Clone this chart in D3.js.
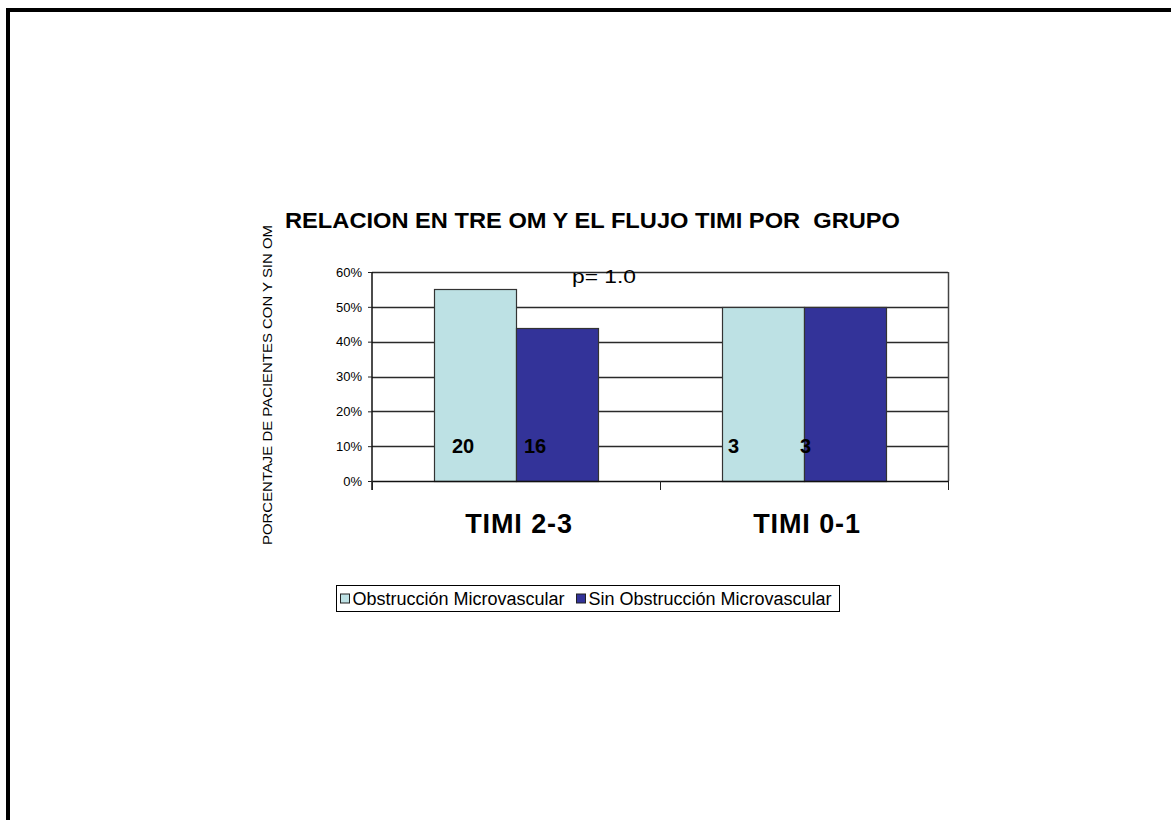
<!DOCTYPE html>
<html>
<head>
<meta charset="utf-8">
<script src="https://cdn.jsdelivr.net/npm/d3@7/dist/d3.min.js"></script>
<style>
  html, body { margin: 0; padding: 0; background: #fff; }
  svg { display: block; font-family: Arial, "Liberation Sans", sans-serif; }
  text { white-space: pre; }
</style>
</head>
<body>
<svg id="chart" width="1171" height="820"></svg>
<script>
// Categories and series
const categories = ["TIMI 2-3", "TIMI 0-1"];
const seriesNames = ["Obstrucción Microvascular", "Sin Obstrucción Microvascular"];
const obstruccion = [55, 50];       // % of patients with OM
const sinObstruccion = [44, 50];    // % of patients without OM
const countsObstruccion = [20, 3];
const countsSin = [16, 3];
const yTicks = [0, 10, 20, 30, 40, 50, 60];
const titleText = "RELACION EN TRE OM Y EL FLUJO TIMI POR  GRUPO";
const yAxisTitle = "PORCENTAJE DE PACIENTES CON Y SIN OM";
const pValueText = "p= 1.0";

const colors = ["#BDE1E4", "#333399"];

const svg = d3.select("#chart");

// Page frame (top and left edges)
svg.append("line").attr("x1", 6).attr("x2", 1171).attr("y1", 10).attr("y2", 10)
  .attr("stroke", "#000").attr("stroke-width", 4);
svg.append("line").attr("x1", 8).attr("x2", 8).attr("y1", 8).attr("y2", 820)
  .attr("stroke", "#000").attr("stroke-width", 4);

const plot = { left: 372, right: 948, top: 272, bottom: 481 };

const x0 = d3.scaleBand().domain(categories).range([plot.left, plot.right]).paddingInner(0).paddingOuter(0);
const x1 = d3.scaleBand().domain([0, 1]).range([0, x0.bandwidth()]).paddingInner(0).paddingOuter(0.756);
const y = d3.scaleLinear().domain([0, 60]).range([plot.bottom, plot.top]);

// Gridlines
svg.append("g").selectAll("line").data(yTicks.filter(d => d > 0)).join("line")
  .attr("x1", plot.left).attr("x2", plot.right)
  .attr("y1", d => Math.round(y(d)) + 0.5).attr("y2", d => Math.round(y(d)) + 0.5)
  .attr("stroke", "#2a2a2a").attr("stroke-width", 1.3);

// Right border of plot area
svg.append("line").attr("x1", plot.right + 0.5).attr("x2", plot.right + 0.5)
  .attr("y1", plot.top).attr("y2", plot.bottom)
  .attr("stroke", "#444").attr("stroke-width", 1.5);

// Bars
const rows = categories.map((c, i) => ({
  cat: c,
  vals: [obstruccion[i], sinObstruccion[i]],
  counts: [countsObstruccion[i], countsSin[i]]
}));

const groups = svg.append("g").selectAll("g").data(rows).join("g")
  .attr("transform", d => `translate(${x0(d.cat)},0)`);

groups.selectAll("rect").data(d => d.vals.map((v, k) => ({ v, k }))).join("rect")
  .attr("x", d => Math.round(x1(d.k)) + 0.5)
  .attr("y", d => Math.round(y(d.v)) + 0.5)
  .attr("width", Math.round(x1.bandwidth()))
  .attr("height", d => plot.bottom - Math.round(y(d.v)))
  .attr("fill", d => colors[d.k])
  .attr("stroke", "#333")
  .attr("stroke-width", 1.2);

// Count labels inside bars (left-aligned offsets per label)
const labelOffsets = [[18, 8], [6, -4]];
groups.each(function (d, i) {
  d3.select(this).selectAll("text.count").data(d.counts).join("text")
    .attr("class", "count")
    .attr("x", (c, k) => x1(k) + labelOffsets[i][k])
    .attr("y", y(10))
    .attr("dy", "0.36em")
    .attr("font-size", 20)
    .attr("font-weight", "bold")
    .attr("fill", "#000")
    .text(c => c);
});

// Y axis
const yAxis = d3.axisLeft(y).tickValues(yTicks).tickFormat(d => d + "%").tickSize(4).tickPadding(6);
const gy = svg.append("g").attr("transform", `translate(${plot.left},0)`).call(yAxis);
gy.select(".domain").attr("stroke", "#111").attr("stroke-width", 1.5).attr("d", `M0,${plot.top}V${plot.bottom + 9}`);
gy.selectAll(".tick line").attr("stroke", "#222");
gy.selectAll(".tick text").attr("font-size", 13).attr("font-family", "Arial, 'Liberation Sans', sans-serif").attr("fill", "#000");

// X axis
const xAxis = d3.axisBottom(x0).tickValues([]).tickSizeOuter(0);
const gx = svg.append("g").attr("transform", `translate(0,${plot.bottom})`).call(xAxis);
gx.select(".domain").attr("stroke", "#111").attr("stroke-width", 1.5);
// Category separators below axis
const seps = [plot.left, x0(categories[1]), plot.right];
gx.selectAll("line.sep").data(seps).join("line").attr("class", "sep")
  .attr("x1", d => d + 0.5).attr("x2", d => d + 0.5).attr("y1", 0).attr("y2", 9)
  .attr("stroke", "#222").attr("stroke-width", 1);

// Category labels
svg.append("g").selectAll("text").data(categories).join("text")
  .attr("x", d => x0(d) + x0.bandwidth() / 2 + 3)
  .attr("y", 533)
  .attr("text-anchor", "middle")
  .attr("font-size", 27)
  .attr("letter-spacing", 0.9)
  .attr("font-weight", "bold")
  .text(d => d);

// Title
svg.append("text").attr("x", 285).attr("y", 228)
  .attr("font-size", 22).attr("font-weight", "bold")
  .attr("textLength", 615).attr("lengthAdjust", "spacingAndGlyphs")
  .text(titleText);

// p-value annotation
svg.append("text").attr("x", 572).attr("y", 283)
  .attr("font-size", 18).attr("fill", "#000")
  .attr("textLength", 64).attr("lengthAdjust", "spacingAndGlyphs")
  .text(pValueText);

// Y axis title
svg.append("text")
  .attr("transform", "translate(272,385) rotate(-90)")
  .attr("text-anchor", "middle")
  .attr("font-size", 13)
  .attr("textLength", 320).attr("lengthAdjust", "spacingAndGlyphs")
  .text(yAxisTitle);

// Legend
const legend = svg.append("g").attr("transform", "translate(336.5,585.5)");
legend.append("rect").attr("width", 503).attr("height", 26).attr("fill", "#fff").attr("stroke", "#000").attr("stroke-width", 1);
const items = legend.selectAll("g").data(seriesNames).join("g");
const lx = [4, 240];
items.attr("transform", (d, i) => `translate(${lx[i]},0)`);
items.append("rect").attr("x", 0).attr("y", 8.5).attr("width", 9).attr("height", 9)
  .attr("fill", (d, i) => colors[i]).attr("stroke", "#222").attr("stroke-width", 1);
items.append("text").attr("x", 12).attr("y", 19.5).attr("font-size", 18).text(d => d);
</script>
</body>
</html>
